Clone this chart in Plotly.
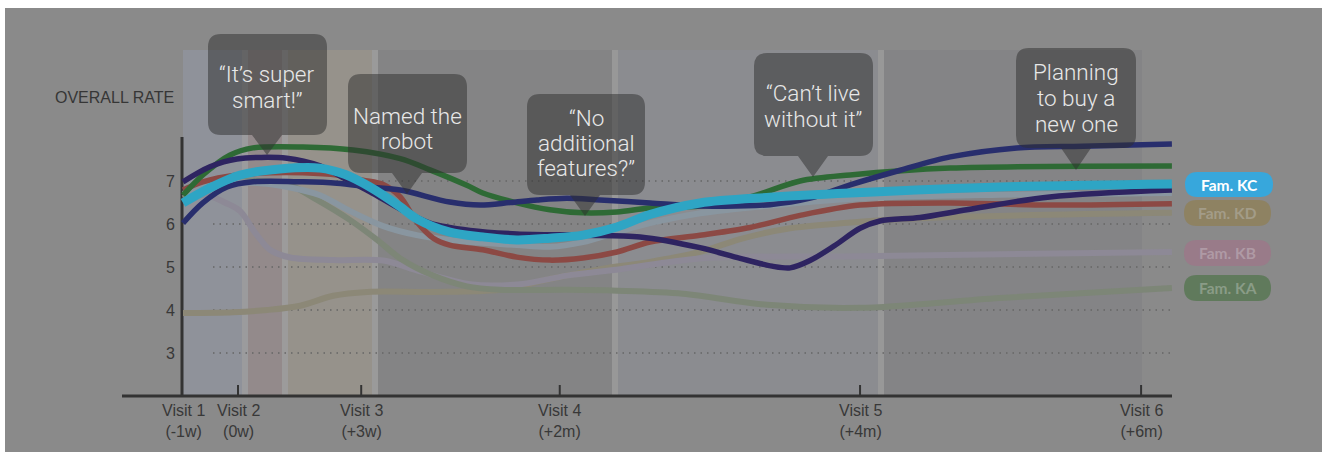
import plotly.graph_objects as go

W, H = 1322, 452

# ---------------------------------------------------------------------------
# Data
# ---------------------------------------------------------------------------
# Position of each visit on the drawn timeline (1 unit = gap Visit 1 -> Visit 2)
visit_labels = ["Visit 1<br>(-1w)", "Visit 2<br>(0w)", "Visit 3<br>(+3w)",
                "Visit 4<br>(+2m)", "Visit 5<br>(+4m)", "Visit 6<br>(+6m)"]
visit_pos = [0.0, 1.0, 3.24, 6.85, 12.31, 17.42]
y_ticks = [3, 4, 5, 6, 7]

# Fam. KC (highlighted family)
kc_x = [0, 0.49, 1.04, 1.76, 2.49, 2.95, 3.4, 3.95, 4.25, 4.85, 5.45, 6.07, 6.67,
        7.27, 7.89, 8.49, 9.4, 10.67, 12.13, 14.85, 17.98]
kc_y = [6.49, 6.84, 7.14, 7.28, 7.30, 7.15, 6.86, 6.4, 6.12, 5.81, 5.70, 5.63, 5.67,
        5.74, 5.93, 6.22, 6.49, 6.62, 6.72, 6.86, 6.93]

# Other members / families
navy_x = [0, 0.36, 0.8, 1.27, 2.18, 2.8, 3.4, 3.95, 4.85, 5.4, 5.95, 6.44, 6.98, 7.58,
          8.49, 9.4, 10.67, 11.4, 12.13, 13.04, 13.95, 15.16, 16.36, 17.98]
navy_y = [6.02, 6.49, 6.86, 6.98, 6.98, 6.95, 6.86, 6.79, 6.51, 6.44, 6.5, 6.56, 6.6, 6.56,
          6.49, 6.42, 6.45, 6.6, 6.91, 7.25, 7.56, 7.77, 7.81, 7.86]

purple_x = [0, 0.49, 0.98, 1.89, 2.49, 2.95, 3.4, 3.95, 4.49, 5.22, 6.07, 7.27, 8.31, 9.4,
            10.13, 10.71, 11.04, 11.4, 11.85, 12.31, 12.67, 13.4, 14.25, 15.76, 17.98]
purple_y = [6.98, 7.33, 7.51, 7.53, 7.35, 7.05, 6.75, 6.35, 6.02, 5.85, 5.77, 5.74, 5.70, 5.45,
            5.2, 5.02, 4.98, 5.15, 5.5, 5.9, 6.07, 6.15, 6.33, 6.63, 6.79]

green_x = [0, 0.36, 0.85, 1.27, 2.18, 3.09, 3.95, 4.49, 5.16, 5.45, 6.07, 6.67, 7.27, 7.89,
           8.49, 9.4, 10.31, 11.22, 12.13, 13.95, 17.98]
green_y = [6.67, 7.14, 7.6, 7.77, 7.79, 7.72, 7.52, 7.26, 6.9, 6.72, 6.49, 6.33, 6.26, 6.28,
           6.37, 6.42, 6.63, 7.0, 7.14, 7.3, 7.35]

red_x = [0, 0.36, 0.98, 1.58, 2.18, 2.8, 3.27, 3.64, 3.95, 4.25, 4.55, 4.85, 5.45, 6.07,
         6.67, 7.27, 7.89, 8.49, 9.4, 10.31, 11.22, 12.31, 13.95, 15.76, 17.98]
red_y = [6.79, 6.98, 7.14, 7.19, 7.19, 7.14, 7.02, 6.92, 6.63, 6.05, 5.67, 5.51, 5.4, 5.23,
         5.16, 5.21, 5.35, 5.58, 5.74, 5.92, 6.2, 6.44, 6.49, 6.44, 6.47]

grayblue_x = [0, 0.67, 1.4, 1.95, 2.49, 3.04, 3.64, 4.25, 4.85, 6.07, 6.67, 7.27, 7.89,
              8.49, 9.4, 10.85, 12.31, 14.85, 17.98]
grayblue_y = [6.7, 6.95, 6.95, 6.85, 6.67, 6.3, 5.95, 5.74, 5.63, 5.51, 5.47, 5.58, 5.81,
              6.02, 6.25, 6.45, 6.6, 6.68, 6.72]

ka_x = [0, 0.67, 1.4, 1.95, 2.44, 3.04, 3.53, 3.95, 4.55, 5.16, 5.76, 6.98, 7.89, 9.09,
        10.62, 12.31, 14.85, 17.98]
ka_y = [6.6, 6.95, 7.0, 6.9, 6.56, 6.09, 5.63, 5.2, 4.8, 4.55, 4.47, 4.47, 4.45, 4.38,
        4.12, 4.05, 4.28, 4.51]

kd_x = [0, 0.91, 1.53, 2.13, 2.73, 3.35, 4.55, 5.76, 6.67, 7.58, 8.49, 9.4, 10.13, 11.04,
        12.31, 13.95, 17.98]
kd_y = [3.93, 3.95, 4.0, 4.1, 4.33, 4.42, 4.42, 4.47, 4.72, 4.95, 5.12, 5.35, 5.65, 5.9,
        6.05, 6.16, 6.26]

kb_x = [0, 0.49, 0.76, 1.04, 1.31, 1.58, 1.95, 2.73, 3.64, 4.31, 5.22, 6.13, 6.98, 7.95,
        9.4, 12.31, 17.98]
kb_y = [6.7, 6.65, 6.5, 6.3, 5.8, 5.4, 5.22, 5.16, 5.15, 4.9, 4.6, 4.6, 4.8, 4.95,
        5.2, 5.25, 5.35]

legend_names = ["Fam. KC", "Fam. KD", "Fam. KB", "Fam. KA"]

callouts = [["\u201cIt\u2019s super", "smart!\u201d"],
            ["Named the", "robot"],
            ["\u201cNo", "additional", "features?\u201d"],
            ["\u201cCan\u2019t live", "without it\u201d"],
            ["Planning", "to buy a", "new one"]]

# ---------------------------------------------------------------------------
# Screen <-> axis helpers (axes span the whole canvas)
# ---------------------------------------------------------------------------
PX_ORIGIN_X, PX_PER_UNIT_X = 183, 55
PX_ORIGIN_Y, PX_PER_UNIT_Y, Y_BASE = 396, 43, 2


def ux(px):
    return (px - PX_ORIGIN_X) / PX_PER_UNIT_X


def vy(py):
    return Y_BASE + (PX_ORIGIN_Y - py) / PX_PER_UNIT_Y


def rounded_path(x0, y0, x1, y1, r, tip=None, hw=15):
    """Rounded rectangle (screen px), optional downward pointer at tip=(tx, ty)."""
    def p(x, y):
        return f"{ux(x):.5f},{vy(y):.5f}"
    d = f"M {p(x0 + r, y0)} L {p(x1 - r, y0)} Q {p(x1, y0)} {p(x1, y0 + r)} "
    d += f"L {p(x1, y1 - r)} Q {p(x1, y1)} {p(x1 - r, y1)} "
    if tip is not None:
        tx, ty = tip
        d += f"L {p(tx + hw, y1)} L {p(tx, ty)} L {p(tx - hw, y1)} "
    d += f"L {p(x0 + r, y1)} Q {p(x0, y1)} {p(x0, y1 - r)} "
    d += f"L {p(x0, y0 + r)} Q {p(x0, y0)} {p(x0 + r, y0)} Z"
    return d


fig = go.Figure()

# ---------------------------------------------------------------------------
# Lines (faint families first, highlighted family last)
# ---------------------------------------------------------------------------
series = [
    (kd_x, kd_y, "#8c8877", 6),
    (kb_x, kb_y, "#8d8996", 6),
    (ka_x, ka_y, "#7d8677", 6),
    (grayblue_x, grayblue_y, "#8996a0", 6),
    (red_x, red_y, "#8c4944", 5.5),
    (green_x, green_y, "#2e6a35", 5.5),
    (purple_x, purple_y, "#2e2461", 5.5),
    (navy_x, navy_y, "#282e6d", 5.5),
    (kc_x, kc_y, "#2ea5c4", 9),
]
for xs, ys, color, width in series:
    fig.add_trace(go.Scatter(
        x=xs, y=ys, mode="lines",
        line=dict(color=color, width=width, shape="spline", smoothing=0.9),
        hoverinfo="skip", showlegend=False))

shapes = []

# canvas background
shapes.append(dict(type="rect", xref="x", yref="y", layer="below",
                   x0=ux(5), x1=ux(W + 2), y0=vy(8), y1=vy(H + 2),
                   fillcolor="#8a8a8a", line=dict(width=0)))

# period bands behind the timeline
bands = [
    (183, 242, "#8f929a"), (242, 248, "#9b9b9d"),
    (248, 282, "#938a8b"), (282, 288, "#9c9b9b"),
    (288, 372, "#96928b"), (372, 378, "#9a9a9a"),
    (378, 612, "#848485"), (612, 618, "#989898"),
    (618, 878, "#8b8c90"), (878, 884, "#989898"),
    (884, 1142, "#848486"),
]
for bx0, bx1, col in bands:
    shapes.append(dict(type="rect", xref="x", yref="y", layer="below",
                       x0=ux(bx0), x1=ux(bx1), y0=vy(50), y1=Y_BASE,
                       fillcolor=col, line=dict(width=0)))

# dotted gridlines
for v in y_ticks:
    shapes.append(dict(type="line", xref="x", yref="y", layer="below",
                       x0=ux(213), x1=ux(1172), y0=v, y1=v,
                       line=dict(color="#666666", width=1.5, dash="1.5px,5px")))

# axes
shapes.append(dict(type="line", xref="x", yref="y", layer="below",
                   x0=ux(182), x1=ux(182), y0=vy(137), y1=Y_BASE,
                   line=dict(color="#333333", width=3)))
shapes.append(dict(type="line", xref="x", yref="y", layer="below",
                   x0=ux(122), x1=ux(1172), y0=Y_BASE, y1=Y_BASE,
                   line=dict(color="#333333", width=3)))
for xp in visit_pos[1:]:
    shapes.append(dict(type="line", xref="x", yref="y", layer="below",
                       x0=xp, x1=xp, y0=Y_BASE, y1=vy(385),
                       line=dict(color="#333333", width=2)))

# speech bubbles
bubbles = [
    (208, 34, 327, 135, (267, 155)),
    (348, 74, 467, 173, (407, 194)),
    (527, 94, 645, 195, (585, 216)),
    (754, 53, 873, 156, (813, 177)),
    (1016, 48, 1136, 148, (1076, 170)),
]
for bx0, by0, bx1, by1, tip in bubbles:
    shapes.append(dict(type="path", xref="x", yref="y", layer="above",
                       path=rounded_path(bx0, by0, bx1, by1, 13, tip),
                       fillcolor="rgba(45,45,45,0.5)", line=dict(width=0)))

# legend pills
pills = [
    (1185, 172, 1273, 197, "#37a7dc", "#ffffff"),
    (1184, 200, 1271, 226, "#8e8262", "#a39c88"),
    (1184, 240, 1271, 266, "#997b89", "#af9aa5"),
    (1184, 275, 1271, 301, "#607a5c", "#8a9c87"),
]
for px0, py0, px1, py1, fill, _ in pills:
    shapes.append(dict(type="path", xref="x", yref="y", layer="above",
                       path=rounded_path(px0, py0, px1, py1, (py1 - py0) / 2),
                       fillcolor=fill, line=dict(width=0)))

annotations = []
label_font = dict(family="Liberation Sans, Arial", size=16, color="#383838")

# y tick labels
for v in y_ticks:
    annotations.append(dict(x=ux(177), y=v, xref="x", yref="y", text=str(v),
                            showarrow=False, xanchor="right", yanchor="middle",
                            font=label_font))

annotations.append(dict(x=ux(176), y=vy(97), xref="x", yref="y", text="OVERALL RATE",
                        showarrow=False, xanchor="right", yanchor="middle",
                        font=dict(family="Liberation Sans, Arial", size=16, color="#363636")))

# visit labels
for xp, lab in zip(visit_pos, visit_labels):
    annotations.append(dict(x=xp, y=vy(421), xref="x", yref="y", text=lab,
                            showarrow=False, xanchor="center", yanchor="middle",
                            font=label_font))

# bubble texts, one annotation per line
bubble_lines = [(267, [74, 100]), (407, [116, 141]), (586, [118, 143, 168]),
                (813, [93, 119]), (1076, [72, 98, 124])]
for (cx, ys), lines in zip(bubble_lines, callouts):
    for ly, txt in zip(ys, lines):
        annotations.append(dict(x=ux(cx), y=vy(ly), xref="x", yref="y", text=txt,
                                showarrow=False, xanchor="center", yanchor="middle",
                                font=dict(family="Roboto, Liberation Sans", size=22.5,
                                          color="#e8e8e8", weight=300)))

# legend texts
for (px0, py0, px1, py1, _, tcol), name in zip(pills, legend_names):
    annotations.append(dict(x=ux((px0 + px1) / 2), y=vy((py0 + py1) / 2), xref="x", yref="y",
                            text=f"<b>{name}</b>", showarrow=False,
                            xanchor="center", yanchor="middle",
                            font=dict(family="Lato, Noto Sans", size=15.5, color=tcol)))

fig.update_layout(
    width=W, height=H,
    margin=dict(l=0, r=0, t=0, b=0),
    paper_bgcolor="white", plot_bgcolor="rgba(0,0,0,0)",
    xaxis=dict(range=[ux(0), ux(W)], visible=False, fixedrange=True),
    yaxis=dict(range=[vy(H), vy(0)], visible=False, fixedrange=True),
    shapes=shapes, annotations=annotations, showlegend=False,
)

fig.write_html("out.html")
